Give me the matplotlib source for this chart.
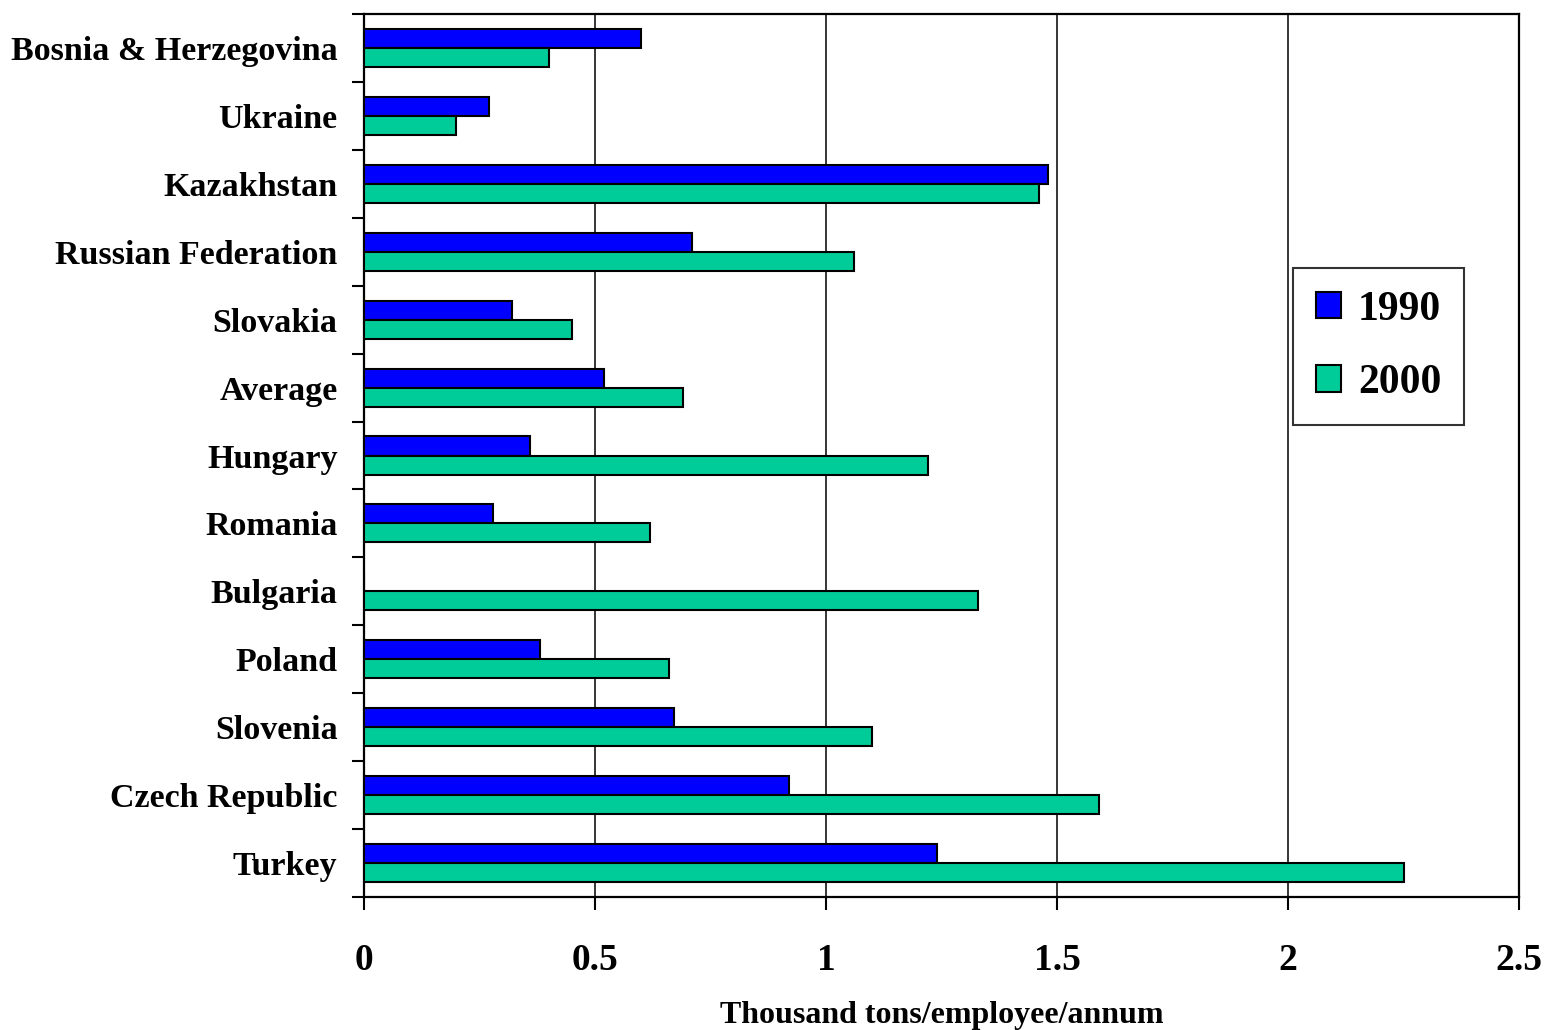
import numpy as np
import matplotlib
matplotlib.use('Agg')
import matplotlib.pyplot as plt
from matplotlib.ticker import FixedLocator

# Labour productivity, thousand tons per employee per annum
countries = ['Bosnia & Herzegovina', 'Ukraine', 'Kazakhstan', 'Russian Federation',
             'Slovakia', 'Average', 'Hungary', 'Romania', 'Bulgaria', 'Poland',
             'Slovenia', 'Czech Republic', 'Turkey']
vals_1990 = [0.60, 0.27, 1.48, 0.71, 0.32, 0.52, 0.36, 0.28, 0.0, 0.38, 0.67, 0.92, 1.24]
vals_2000 = [0.40, 0.20, 1.46, 1.06, 0.45, 0.69, 1.22, 0.62, 1.33, 0.66, 1.10, 1.59, 2.25]
years = ['1990', '2000']
xticks = [0, 0.5, 1, 1.5, 2, 2.5]

plt.rcParams['font.family'] = ['Liberation Serif', 'DejaVu Serif']
plt.rcParams['font.weight'] = 'bold'

fig = plt.figure(figsize=(15.47, 10.30), dpi=100)
ax = fig.add_axes([0.2353, 0.1291, 0.9819 - 0.2353, 0.9864 - 0.1291])

n = len(countries)
pos = np.arange(n)[::-1]          # first country at the top
h = 0.28

ax.barh(pos + h / 2, vals_1990, height=h, color='#0000FF', edgecolor='black',
        linewidth=1.5, label=years[0], zorder=3)
ax.barh(pos - h / 2, vals_2000, height=h, color='#00CC99', edgecolor='black',
        linewidth=1.5, label=years[1], zorder=3)

ax.set_xlim(0, 2.5)
ax.set_ylim(-0.5, n - 0.5)

ax.set_xticks(xticks)
ax.set_xticklabels(['0', '0.5', '1', '1.5', '2', '2.5'])
ax.tick_params(axis='x', direction='out', length=9, width=1.5, labelsize=27, pad=24)
ax.xaxis.grid(True, color='black', linewidth=1.1, zorder=0)

ax.set_yticks(pos)
ax.set_yticklabels(countries)
ax.yaxis.set_minor_locator(FixedLocator(np.arange(-0.5, n, 1.0)))
ax.tick_params(axis='y', which='major', length=0, labelsize=24.5, pad=19)
ax.tick_params(axis='y', which='minor', direction='out', length=9, width=1.5)

for s in ax.spines.values():
    s.set_linewidth(1.6)
    s.set_color('black')

ax.set_xlabel('Thousand tons/employee/annum', fontsize=23, fontweight='bold', labelpad=17)

leg = ax.legend(loc='upper left', bbox_to_anchor=(0.8045, 0.7125), fontsize=30,
                frameon=True, fancybox=False, edgecolor='black', handlelength=0.6,
                handleheight=0.6, handletextpad=0.4, labelspacing=0.85,
                borderpad=0.55, borderaxespad=0)
leg.get_frame().set_linewidth(1.5)

fig.savefig('out.png', dpi=100)
plt.close(fig)
